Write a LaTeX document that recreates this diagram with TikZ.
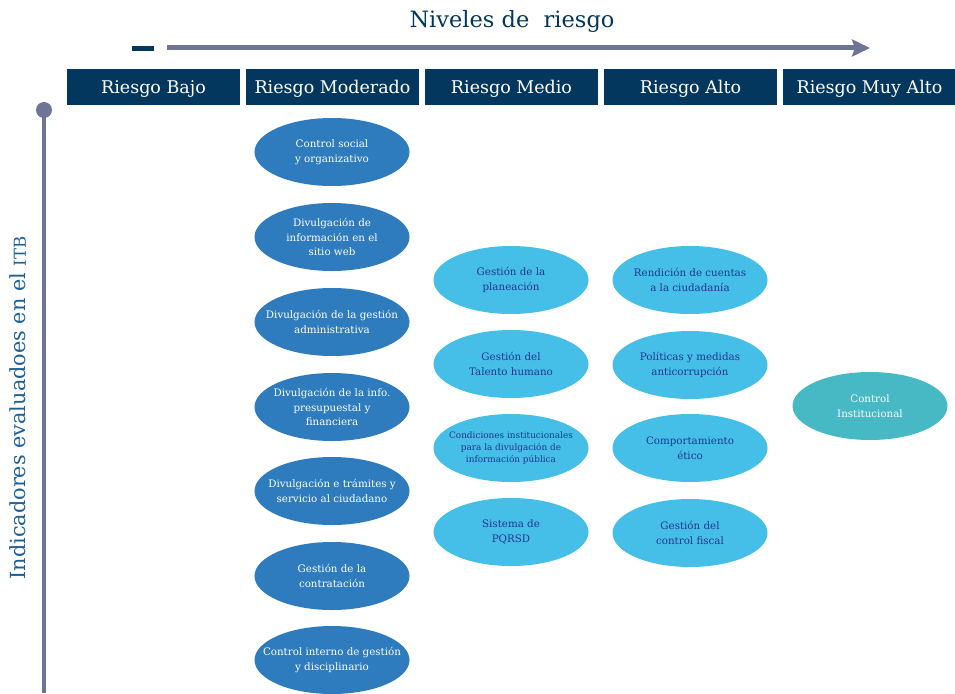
\documentclass[tikz,border=0pt]{standalone}
\usepackage{fontspec}
\setmainfont{DejaVu Serif}
\usetikzlibrary{shapes.geometric,arrows.meta}

\definecolor{navy}{HTML}{03375E}
\definecolor{axisgray}{HTML}{6E7497}
\definecolor{midblue}{HTML}{2E7BBD}
\definecolor{skyblue}{HTML}{45BEE8}
\definecolor{tealblue}{HTML}{46B9C4}
\definecolor{inkblue}{HTML}{23358F}

\tikzset{
	riskbox/.style={fill=navy,text=white,minimum width=173pt,minimum height=36pt,
		inner sep=0pt,text depth=0pt,font=\fontsize{17.5}{19}\selectfont},
	indic/.style={ellipse,minimum width=155pt,minimum height=68pt,
		inner xsep=-16pt,inner ysep=-6pt,align=center,
		font=\fontsize{10.3}{14.5}\selectfont},
	moderado/.style={indic,fill=midblue,text=white},
	medio/.style={indic,fill=skyblue,text=inkblue},
	muyalto/.style={indic,fill=tealblue,text=white},
}

\begin{document}
\begin{tikzpicture}[x=1pt,y=-1pt]
	\useasboundingbox (0,0) rectangle (955,693);
	
	% horizontal axis
	\node (Titulo) at (512,21) [text=navy,font=\fontsize{22.5}{25}\selectfont] {Niveles de\ \ riesgo};
	\fill [navy] (132,46) rectangle (154,51);
	\coordinate (Hstart) at (167,48);
	\coordinate (Hend) at (870,48);
	\draw [line width=5pt,axisgray,-{Stealth[length=18pt,width=17pt,inset=3pt]}] (Hstart) -- (Hend);
	
	% vertical axis
	\coordinate (Vtop) at (44,110);
	\coordinate (Vbottom) at (44,693);
	\draw [line width=4pt,axisgray] (Vtop) -- (Vbottom);
	\fill [axisgray] (Vtop) circle (8);
	\node (Indicadores) at (18,408) [rotate=90,text=midblue!60!navy,font=\fontsize{20.8}{22}\selectfont]
		{Indicadores evaluadoes en el {\fontsize{16.5}{18}\selectfont ITB}};
	
	% risk levels
	\foreach \i/\nivel in {1/Riesgo Bajo,2/Riesgo Moderado,3/Riesgo Medio,4/Riesgo Alto,5/Riesgo Muy Alto}{%
		\node [riskbox] (Nivel\i) at ({153.5+(\i-1)*179},87) {\nivel};
	}
	
	% moderate column
	\node [moderado] (Mod1) at (332,152) {Control social\\y organizativo};
	\node [moderado] (Mod2) at (332,237) {Divulgación de\\información en el\\sitio web};
	\node [moderado] (Mod3) at (332,322) {Divulgación de la gestión\\administrativa};
	\node [moderado] (Mod4) at (332,407) {Divulgación de la info.\\presupuestal y\\financiera};
	\node [moderado] (Mod5) at (332,491) {Divulgación e trámites y\\servicio al ciudadano};
	\node [moderado] (Mod6) at (332,576) {Gestión de la\\contratación};
	\node [moderado] (Mod7) at (332,660) {Control interno de gestión\\y disciplinario};
	
	% medium column
	\node [medio] (Med1) at (511,280) {Gestión de la\\planeación};
	\node [medio] (Med2) at (511,364) {Gestión del\\Talento humano};
	\node [medio,font=\fontsize{8.9}{12}\selectfont] (Med3) at (511,448)
		{Condiciones institucionales\\para la divulgación de\\información pública};
	\node [medio] (Med4) at (511,532) {Sistema de\\PQRSD};
	
	% high column
	\node [medio] (Alto1) at (690,280) {Rendición de cuentas\\a la ciudadanía};
	\node [medio] (Alto2) at (690,365) {Políticas y medidas\\anticorrupción};
	\node [medio] (Alto3) at (690,448) {Comportamiento\\ético};
	\node [medio] (Alto4) at (690,533) {Gestión del\\control fiscal};
	
	% very high column
	\node [muyalto] (MuyAlto1) at (870,406) {Control\\Institucional};
\end{tikzpicture}
\end{document}
